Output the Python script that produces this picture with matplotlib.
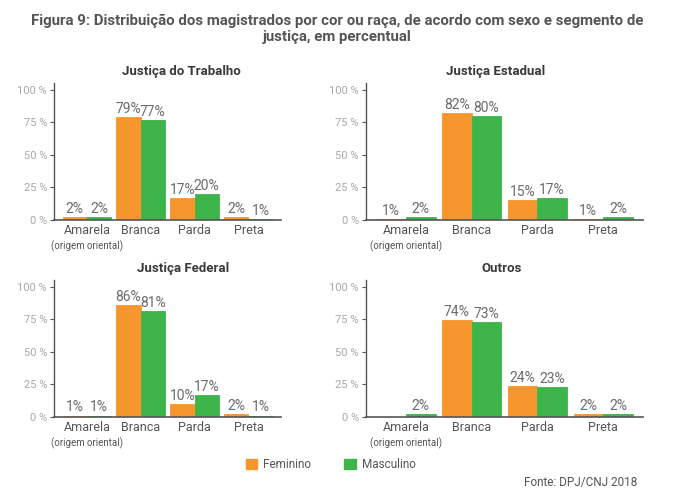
import matplotlib
matplotlib.use("Agg")
import matplotlib.pyplot as plt
from matplotlib.patches import Patch
import numpy as np

plt.rcParams['font.family'] = ['Roboto', 'DejaVu Sans']

CATEGORIES = ['Amarela', 'Branca', 'Parda', 'Preta']
PANEL_TITLES = ['Justiça do Trabalho', 'Justiça Estadual', 'Justiça Federal', 'Outros']

# percentuais (feminino, masculino) por painel
FEM_TRABALHO = [2, 79, 17, 2]
MASC_TRABALHO = [2, 77, 20, 1]
FEM_ESTADUAL = [1, 82, 15, 1]
MASC_ESTADUAL = [2, 80, 17, 2]
FEM_FEDERAL = [1, 86, 10, 2]
MASC_FEDERAL = [1, 81, 17, 1]
FEM_OUTROS = [0, 74, 24, 2]
MASC_OUTROS = [2, 73, 23, 2]

FEM = [FEM_TRABALHO, FEM_ESTADUAL, FEM_FEDERAL, FEM_OUTROS]
MASC = [MASC_TRABALHO, MASC_ESTADUAL, MASC_FEDERAL, MASC_OUTROS]

ORANGE = '#F7962D'
GREEN = '#3DB54A'
DARK = '#555555'
LIGHT = '#A8A8A8'

fig = plt.figure(figsize=(6.75, 5.01), dpi=100)

# [left, bottom, width, height] em fração da figura
AX_POS = [
    [0.080, 0.561, 0.336, 0.273],
    [0.542, 0.561, 0.410, 0.273],
    [0.080, 0.168, 0.336, 0.273],
    [0.542, 0.168, 0.410, 0.273],
]
TITLE_X = [0.56, 0.47, 0.57, 0.49]

x = np.arange(len(CATEGORIES))
w = 0.45

for i in range(4):
    ax = fig.add_axes(AX_POS[i])
    fem = FEM[i]
    masc = MASC[i]
    b1 = ax.bar(x - w / 2, fem, width=w, color=ORANGE, edgecolor=ORANGE, linewidth=0.6)
    b2 = ax.bar(x + w / 2, masc, width=w, color=GREEN, edgecolor=GREEN, linewidth=0.6)
    for bars, vals in ((b1, fem), (b2, masc)):
        for rect, v in zip(bars, vals):
            if v == 0:
                rect.set_linewidth(0)
                continue
            ax.text(rect.get_x() + rect.get_width() / 2, v + 0.8, f"{v}%",
                    ha='center', va='bottom', fontsize=10, color='#6b6b6b')

    ax.set_xlim(-0.61, 3.6)
    ax.set_ylim(0, 105)
    ax.set_yticks([0, 25, 50, 75, 100])
    ax.set_yticklabels([f"{t} %" for t in [0, 25, 50, 75, 100]])
    ax.tick_params(axis='y', labelsize=8, labelcolor=LIGHT, color=DARK,
                   length=3, width=0.8, pad=2)
    ax.set_xticks(x)
    ax.set_xticklabels(CATEGORIES, fontsize=9, color=DARK)
    ax.tick_params(axis='x', length=0, pad=3)
    ax.text(0, -0.15, '(origem oriental)', transform=ax.get_xaxis_transform(),
            ha='center', va='top', fontsize=7, color=DARK)
    ax.spines[['top', 'right']].set_visible(False)
    ax.spines['left'].set_color(DARK)
    ax.spines['bottom'].set_color(DARK)
    ax.spines['left'].set_linewidth(1.0)
    ax.spines['bottom'].set_linewidth(1.2)
    ax.text(TITLE_X[i], 1.035, PANEL_TITLES[i], transform=ax.transAxes,
            ha='center', va='bottom', fontsize=9.5, fontweight='bold', color='#3A3A3A')

fig.text(0.5, 0.972,
         "Figura 9: Distribuição dos magistrados por cor ou raça, de acordo com sexo e segmento de\n"
         "justiça, em percentual",
         ha='center', va='top', fontsize=10.8, fontweight='bold', color=DARK,
         linespacing=1.2)

handles = [Patch(color=ORANGE, label='Feminino'), Patch(color=GREEN, label='Masculino')]
fig.legend(handles=handles, loc='center', bbox_to_anchor=(0.49, 0.073), ncol=2,
           frameon=False, fontsize=8.5, handlelength=1.0, handleheight=1.0,
           handletextpad=0.5, columnspacing=2.8, labelcolor=DARK)

fig.text(0.944, 0.036, "Fonte: DPJ/CNJ 2018", ha='right', va='center',
         fontsize=8.5, color=DARK)

fig.savefig("out.png", dpi=100)
